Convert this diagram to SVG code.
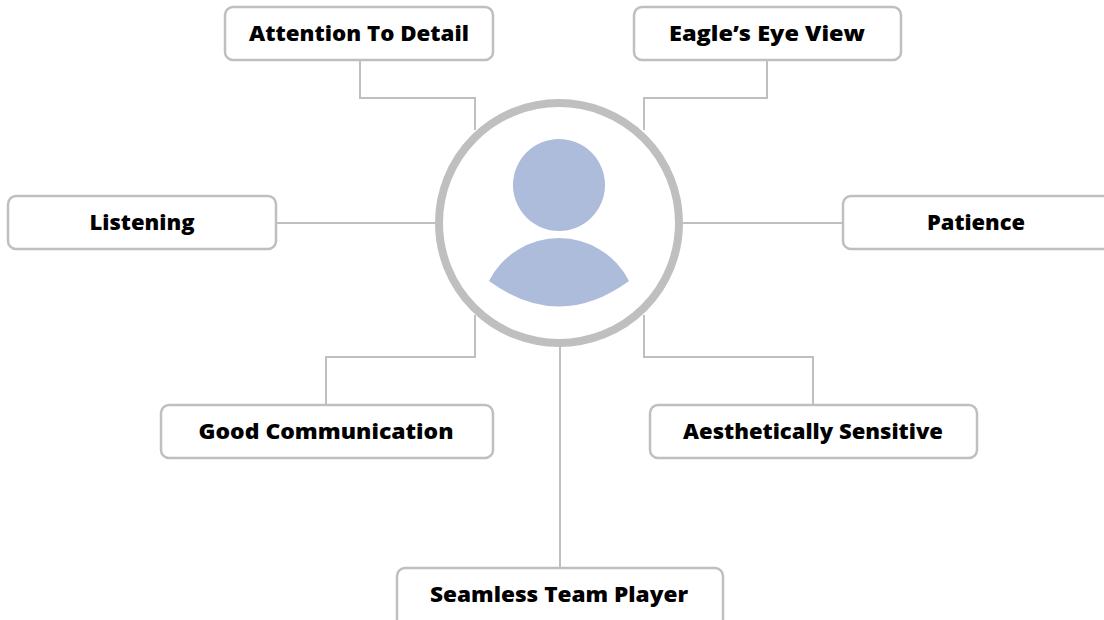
<svg xmlns="http://www.w3.org/2000/svg" width="1104" height="620" viewBox="0 0 1104 620">
<style>
.box{fill:#ffffff;stroke:#bfbfbf;stroke-width:2.5}
.lbl{font-family:"Open Sans","Noto Sans",sans-serif;font-weight:800;font-size:21px;fill:#000000;text-anchor:middle}
.con{fill:none;stroke:#bfbfbf;stroke-width:2}
</style>
<rect width="1104" height="620" fill="#ffffff"/>
<g id="connectors">
<polyline class="con" points="360,60 360,98 475,98 475,130"/>
<polyline class="con" points="767,60 767,98 644,98 644,130"/>
<line class="con" x1="276" y1="223" x2="440" y2="223"/>
<line class="con" x1="678" y1="223" x2="843" y2="223"/>
<polyline class="con" points="326,406 326,357 475,357 475,315"/>
<polyline class="con" points="813,406 813,357 644,357 644,315"/>
<line class="con" x1="560" y1="343" x2="560" y2="568"/>
</g>
<g id="center">
<circle cx="559" cy="223" r="120" fill="#ffffff" stroke="#bfbfbf" stroke-width="8"/>
<circle cx="559" cy="185" r="46" fill="#adbcdb"/>
<path d="M489,281 A78.5,78.5 0 0 1 629,281 Q559,332 489,281 Z" fill="#adbcdb"/>
</g>
<g id="n-attention"><rect class="box" x="225" y="7" width="268" height="53" rx="8"/><text class="lbl" x="359" y="41" textLength="220" lengthAdjust="spacingAndGlyphs">Attention To Detail</text></g>
<g id="n-eagle"><rect class="box" x="634" y="7" width="267" height="53" rx="8"/><text class="lbl" x="767" y="41" textLength="196" lengthAdjust="spacingAndGlyphs">Eagle’s Eye View</text></g>
<g id="n-listening"><rect class="box" x="8" y="196" width="268" height="53" rx="8"/><text class="lbl" x="142" y="230" textLength="105" lengthAdjust="spacingAndGlyphs">Listening</text></g>
<g id="n-patience"><rect class="box" x="843" y="196" width="268" height="53" rx="8"/><text class="lbl" x="976" y="230" textLength="98" lengthAdjust="spacingAndGlyphs">Patience</text></g>
<g id="n-goodcomm"><rect class="box" x="161" y="405" width="332" height="53" rx="8"/><text class="lbl" x="326" y="439" textLength="255" lengthAdjust="spacingAndGlyphs">Good Communication</text></g>
<g id="n-aesthetic"><rect class="box" x="650" y="405" width="327" height="53" rx="8"/><text class="lbl" x="813" y="439" textLength="260" lengthAdjust="spacingAndGlyphs">Aesthetically Sensitive</text></g>
<g id="n-seamless"><rect class="box" x="397" y="568" width="326" height="60" rx="8"/><text class="lbl" x="559" y="602" textLength="258" lengthAdjust="spacingAndGlyphs">Seamless Team Player</text></g>
</svg>
